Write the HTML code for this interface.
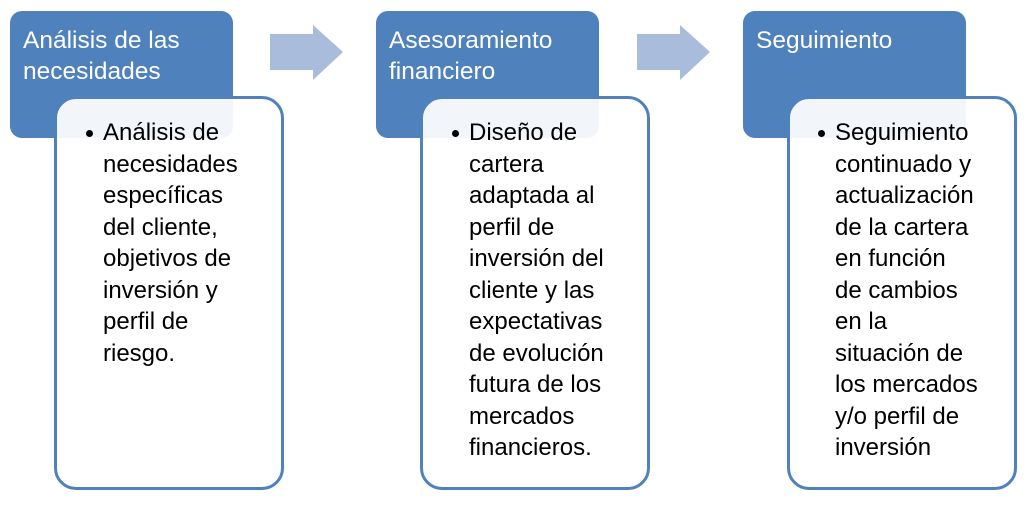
<!DOCTYPE html>
<html><head><meta charset="utf-8"><style>
body{margin:0;width:1027px;height:506px;background:#fff;position:relative;overflow:hidden;font-family:"Liberation Sans",sans-serif}
.h{position:absolute;top:11px;width:223px;height:127px;background:#4f81bd;border-radius:12px;color:#fff;font-size:24.5px;line-height:31px;box-sizing:border-box;padding:14px 0 0 13px;white-space:nowrap}
.b{position:absolute;top:96px;width:230px;height:394px;background:rgba(255,255,255,0.93);border:3px solid #4f81bd;border-radius:22px;box-sizing:border-box}
.t{position:absolute;top:117px;font-size:24px;line-height:31.5px;color:#000;width:180px;white-space:nowrap}
.t:before{content:"";position:absolute;left:-17px;top:13px;width:7px;height:7px;border-radius:50%;background:#000}
svg{position:absolute}
</style></head><body>
<div class="h" style="left:10px">Análisis de las<br>necesidades</div>
<div class="b" style="left:54px"></div>
<div class="t" style="left:103px">Análisis de<br>necesidades<br>específicas<br>del cliente,<br>objetivos de<br>inversión y<br>perfil de<br>riesgo.</div>

<div class="h" style="left:376px">Asesoramiento<br>financiero</div>
<div class="b" style="left:420px"></div>
<div class="t" style="left:469px">Diseño de<br>cartera<br>adaptada al<br>perfil de<br>inversión del<br>cliente y las<br>expectativas<br>de evolución<br>futura de los<br>mercados<br>financieros.</div>

<div class="h" style="left:743px">Seguimiento</div>
<div class="b" style="left:787px"></div>
<div class="t" style="left:835px">Seguimiento<br>continuado y<br>actualización<br>de la cartera<br>en función<br>de cambios<br>en la<br>situación de<br>los mercados<br>y/o perfil de<br>inversión</div>

<svg style="left:0;top:0" width="1027" height="506">
<polygon points="270,34 313,34 313,25 343,52 313,80 313,70 270,70" fill="#a9bcdc"/>
<polygon points="637,34 680,34 680,25 710,52 680,80 680,70 637,70" fill="#a9bcdc"/>
</svg>
</body></html>
